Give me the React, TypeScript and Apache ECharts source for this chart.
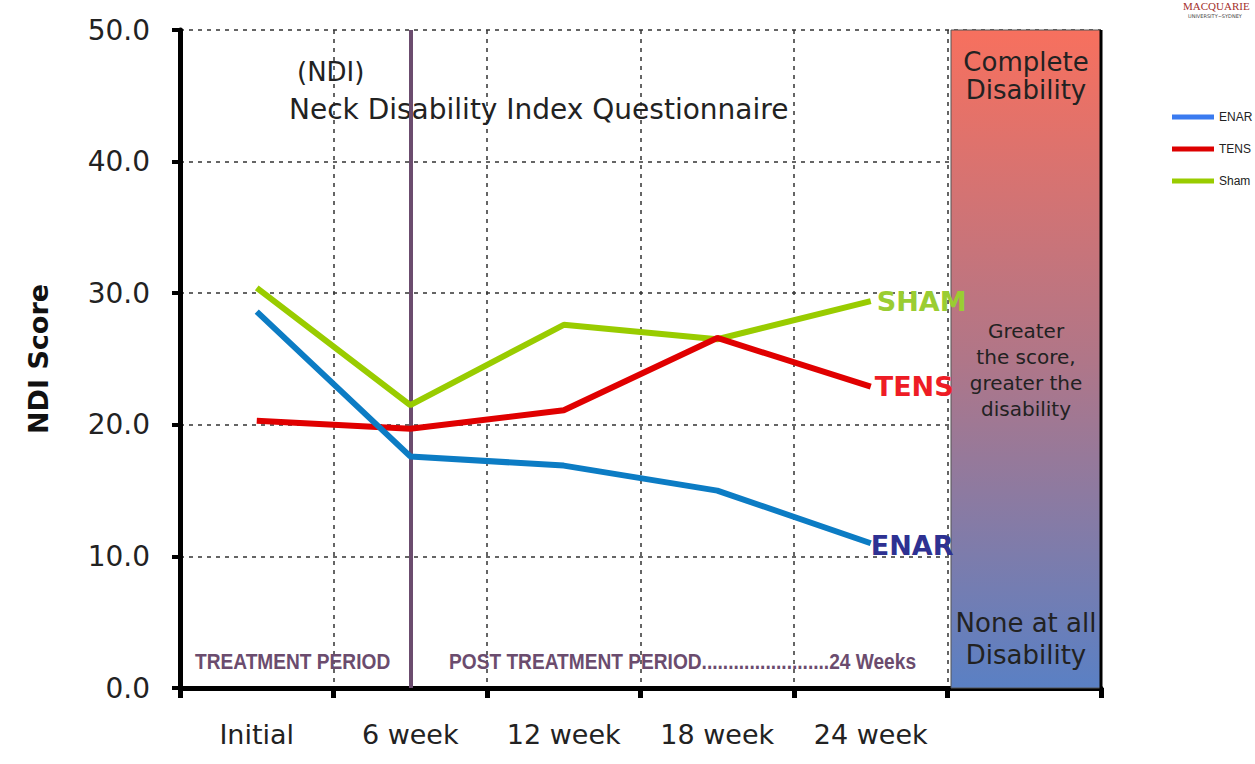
import React, { useEffect, useRef } from "react";
import * as echarts from "echarts";

const categories = ["Initial", "6 week", "12 week", "18 week", "24 week", ""];
const enar = [28.6, 17.6, 16.9, 15.0, 11.0];
const tens = [20.3, 19.7, 21.1, 26.6, 22.9];
const sham = [30.4, 21.5, 27.6, 26.5, 29.4];
const yTicks = { min: 0, max: 50, interval: 10 };

const SANS = "DejaVu Sans";
const ARIAL = "Liberation Sans";
const PURPLE = "#6B4C6E";

export default function App() {
  const ref = useRef<HTMLDivElement>(null);
  useEffect(() => {
    if (!ref.current) return;
    const chart = echarts.init(ref.current, undefined, { renderer: "svg" });
    const option: any = {
      animation: false,
      backgroundColor: "#ffffff",
      grid: { left: 180, right: 154, top: 30, bottom: 76, containLabel: false },
      legend: {
        orient: "vertical",
        left: 1172,
        top: 111,
        padding: 0,
        itemWidth: 42,
        itemHeight: 5,
        itemGap: 20,
        icon: "rect",
        textStyle: { fontFamily: ARIAL, fontSize: 12, color: "#222" },
        data: [
          { name: "ENAR", itemStyle: { color: "#3A7BF0" } },
          { name: "TENS", itemStyle: { color: "#DD0000" } },
          { name: "Sham", itemStyle: { color: "#99CC00" } },
        ],
      },
      xAxis: {
        type: "category",
        data: categories,
        boundaryGap: true,
        axisLine: { show: true, lineStyle: { color: "#000", width: 5 } },
        axisTick: { show: true, length: 10, lineStyle: { color: "#000", width: 5 } },
        axisLabel: { fontFamily: SANS, fontSize: 27, color: "#222", margin: 33 },
        splitLine: { show: true, lineStyle: { color: "#333", width: 1.5, type: [4, 5] } },
      },
      yAxis: {
        type: "value",
        min: yTicks.min,
        max: yTicks.max,
        interval: yTicks.interval,
        name: "NDI Score",
        nameLocation: "middle",
        nameGap: 128,
        nameRotate: 90,
        nameTextStyle: { fontFamily: SANS, fontSize: 27, fontWeight: "bold", color: "#111" },
        axisLine: { show: true, lineStyle: { color: "#000", width: 5 } },
        axisTick: { show: true, length: 8, lineStyle: { color: "#000", width: 4 } },
        axisLabel: {
          fontFamily: SANS,
          fontSize: 28,
          color: "#222",
          margin: 30,
          formatter: (v: number) => v.toFixed(1),
        },
        splitLine: { show: true, lineStyle: { color: "#333", width: 1.5, type: [4, 5] } },
      },
      series: [
        {
          name: "Sham",
          type: "line",
          z: 5,
          data: sham,
          symbol: "none",
          lineStyle: { color: "#99CC00", width: 6 },
          itemStyle: { color: "#99CC00" },
          endLabel: {
            show: true,
            formatter: "SHAM",
            fontFamily: SANS,
            fontSize: 27,
            fontWeight: "bold",
            color: "#9ACD32",
            distance: 6,
          },
        },
        {
          name: "TENS",
          type: "line",
          z: 5,
          data: tens,
          symbol: "none",
          lineStyle: { color: "#E00000", width: 6 },
          itemStyle: { color: "#E00000" },
          endLabel: {
            show: true,
            formatter: "TENS",
            fontFamily: SANS,
            fontSize: 27,
            fontWeight: "bold",
            color: "#EE1C25",
            distance: 4,
          },
        },
        {
          name: "ENAR",
          type: "line",
          z: 5,
          data: enar,
          symbol: "none",
          lineStyle: { color: "#0C7CC4", width: 6 },
          itemStyle: { color: "#0C7CC4" },
          endLabel: {
            show: true,
            formatter: "ENAR",
            fontFamily: SANS,
            fontSize: 27,
            fontWeight: "bold",
            color: "#2E3192",
            distance: 0,
            offset: [0, 2],
          },
          markLine: {
            silent: true,
            symbol: ["none", "none"],
            label: { show: false },
            lineStyle: { color: PURPLE, width: 4, type: "solid" },
            data: [{ xAxis: "6 week" }],
          },
        },
      ],
      graphic: [
        {
          type: "rect",
          z: 1,
          shape: { x: 951, y: 30, width: 150, height: 658 },
          style: {
            fill: new echarts.graphic.LinearGradient(0, 0, 0, 1, [
              { offset: 0, color: "#F7705E" },
              { offset: 0.5, color: "#B07688" },
              { offset: 1, color: "#5A80C4" },
            ]),
            stroke: "#555",
            lineWidth: 1,
          },
        },
        {
          type: "line",
          z: 2,
          shape: { x1: 1101, y1: 30, x2: 1101, y2: 690 },
          style: { stroke: "#000", lineWidth: 3 },
        },
        {
          type: "text",
          z: 3,
          x: 1026,
          y: 76,
          style: {
            text: "Complete\nDisability",
            fontFamily: SANS,
            fontSize: 26,
            lineHeight: 28,
            fill: "#222",
            align: "center",
            verticalAlign: "middle",
          },
        },
        {
          type: "text",
          z: 3,
          x: 1026,
          y: 370,
          style: {
            text: "Greater\nthe score,\ngreater the\ndisability",
            fontFamily: SANS,
            fontSize: 20,
            lineHeight: 26,
            fill: "#222",
            align: "center",
            verticalAlign: "middle",
          },
        },
        {
          type: "text",
          z: 3,
          x: 1026,
          y: 639,
          style: {
            text: "None at all\nDisability",
            fontFamily: SANS,
            fontSize: 26,
            lineHeight: 32,
            fill: "#222",
            align: "center",
            verticalAlign: "middle",
          },
        },
        {
          type: "text",
          z: 3,
          x: 297,
          y: 72,
          style: {
            text: "(NDI)",
            fontFamily: SANS,
            fontSize: 26,
            fill: "#222",
            verticalAlign: "middle",
          },
        },
        {
          type: "text",
          z: 3,
          x: 289,
          y: 109,
          style: {
            text: "Neck Disability Index Questionnaire",
            fontFamily: SANS,
            fontSize: 28,
            fill: "#222",
            verticalAlign: "middle",
          },
        },
        {
          type: "text",
          z: 3,
          x: 195,
          y: 661,
          scaleX: 0.87,
          style: {
            text: "TREATMENT PERIOD",
            fontFamily: ARIAL,
            fontWeight: "bold",
            fontSize: 22,
            fill: PURPLE,
            verticalAlign: "middle",
          },
        },
        {
          type: "text",
          z: 3,
          x: 449,
          y: 661,
          scaleX: 0.87,
          style: {
            text: "POST TREATMENT PERIOD........................24 Weeks",
            fontFamily: ARIAL,
            fontWeight: "bold",
            fontSize: 22,
            fill: PURPLE,
            verticalAlign: "middle",
          },
        },
        {
          type: "text",
          z: 3,
          x: 1183,
          y: 0,
          style: {
            text: "MACQUARIE",
            fontFamily: "Liberation Serif",
            fontSize: 11,
            fill: "#A3302C",
          },
        },
        {
          type: "text",
          z: 3,
          x: 1188,
          y: 13,
          style: {
            text: "UNIVERSITY~SYDNEY",
            fontFamily: SANS,
            fontSize: 5,
            fill: "#444",
          },
        },
      ],
    };
    chart.setOption(option);
    return () => chart.dispose();
  }, []);
  return (
    <div
      ref={ref}
      style={{ position: "absolute", left: 0, top: 0, width: 1255, height: 764, background: "#fff" }}
    />
  );
}
